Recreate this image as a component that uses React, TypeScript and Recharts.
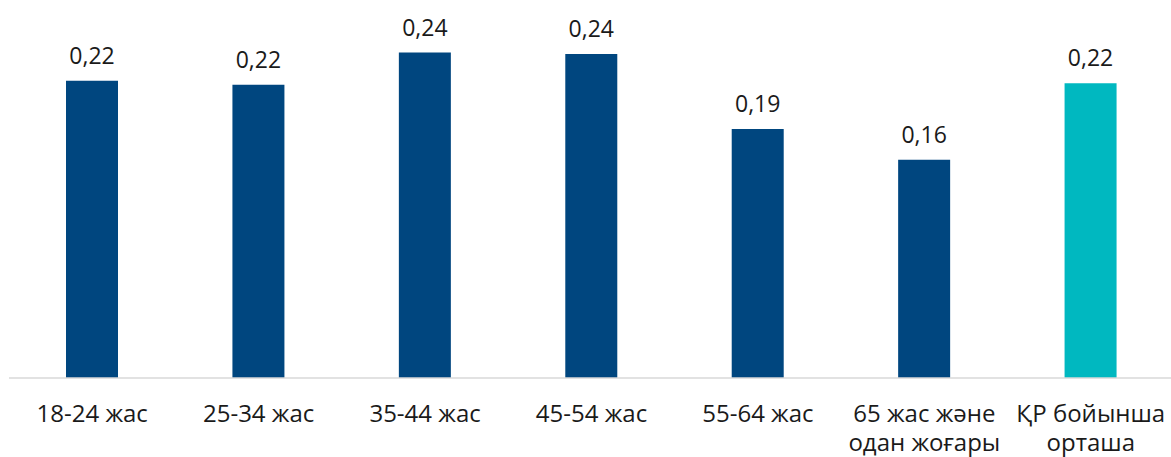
import React from 'react';
import { BarChart, Bar, XAxis, YAxis, Cell, LabelList } from 'recharts';

// Age groups (labels with a line break where the picture wraps them)
const categories = [
  '18-24 жас',
  '25-34 жас',
  '35-44 жас',
  '45-54 жас',
  '55-64 жас',
  '65 жас және\nодан жоғары',
  'ҚР бойынша\nорташа',
];
const values = [0.222, 0.219, 0.243, 0.242, 0.186, 0.163, 0.22];
const isAverage = [false, false, false, false, false, false, true];

const COLORS = {
  bar: '#00467F',
  average: '#00B8C0',
  axis: '#D9D9D9',
  text: '#1a1a1a',
};

const FONT = '"Open Sans", "Noto Sans", sans-serif';

const data = categories.map((name, i) => ({ name, value: values[i], avg: isAverage[i] }));

const formatValue = (v: any) => Number(v).toFixed(2).replace('.', ',');

// Multi-line category tick
const CategoryTick = (props: any) => {
  const { x, y, payload } = props;
  const lines = String(payload.value).split('\n');
  return (
    <text
      x={x}
      y={y}
      textAnchor="middle"
      fill={COLORS.text}
      fontSize={24}
      fontFamily={FONT}
    >
      {lines.map((line, i) => (
        <tspan key={i} x={x} dy={i === 0 ? 44 : 29}>
          {line}
        </tspan>
      ))}
    </text>
  );
};

export default function App() {
  return (
    <div
      style={{
        position: 'fixed',
        left: 0,
        top: 0,
        width: 1171,
        height: 457,
        overflow: 'hidden',
        background: '#fff',
      }}
    >
      <BarChart
        width={1180}
        height={457}
        data={data}
        margin={{ top: 3, right: 6, left: 9, bottom: 0 }}
      >
        <XAxis
          dataKey="name"
          interval={0}
          height={79}
          tickLine={false}
          tickSize={0}
          tickMargin={0}
          axisLine={{ stroke: COLORS.axis, strokeWidth: 1.5 }}
          tick={<CategoryTick />}
        />
        <YAxis hide domain={[0, 0.28]} />
        <Bar dataKey="value" barSize={52} isAnimationActive={false}>
          {data.map((d, i) => (
            <Cell key={`cell-${i}`} fill={d.avg ? COLORS.average : COLORS.bar} />
          ))}
          <LabelList
            dataKey="value"
            position="top"
            offset={17}
            formatter={formatValue}
            fill={COLORS.text}
            fontSize={23}
            fontFamily={FONT}
          />
        </Bar>
      </BarChart>
    </div>
  );
}
